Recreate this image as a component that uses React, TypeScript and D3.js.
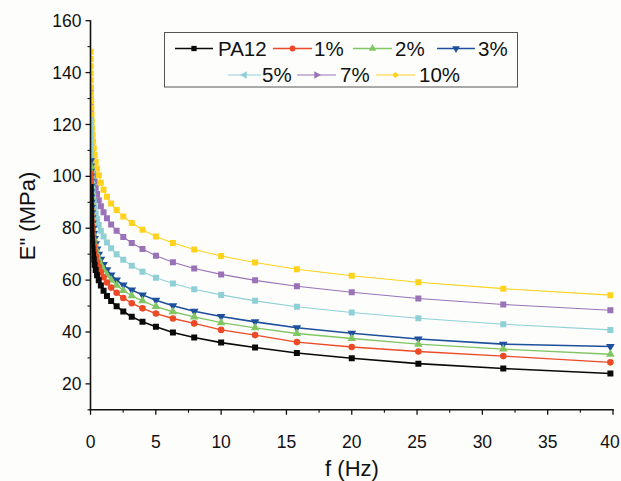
import React from 'react';
import * as d3 from 'd3';

const FREQ = [0.01, 0.0126, 0.0158, 0.02, 0.0251, 0.0316, 0.0398, 0.0501, 0.0631, 0.0794,
  0.1, 0.126, 0.158, 0.2, 0.251, 0.316, 0.398, 0.501, 0.631, 0.794,
  1, 1.26, 1.58, 2, 2.51, 3.16, 3.98, 5.01, 6.31, 7.94,
  10, 12.6, 15.8, 20, 25.1, 31.6, 39.8];

const PA12 = [95.9, 93.9, 91.9, 89.9, 87.9, 85.9, 83.9, 81.9, 79.9, 77.9,
  75.9, 73.9, 71.9, 69.9, 67.9, 65.9, 63.9, 61.9, 59.9, 57.9,
  55.9, 53.9, 51.9, 49.9, 47.9, 45.9, 43.9, 42.0, 39.8, 37.9,
  35.9, 34.0, 31.9, 29.9, 27.8, 25.9, 24.0];
const C1 = [101.1, 99.1, 97.1, 95.1, 93.1, 91.1, 89.1, 87.1, 85.1, 83.1,
  81.1, 79.1, 77.1, 75.1, 73.1, 71.1, 69.1, 67.1, 65.1, 63.1,
  61.1, 59.1, 57.1, 55.1, 53.1, 51.1, 49.1, 47.1, 45.2, 43.3,
  40.8, 38.8, 36.1, 34.2, 32.5, 30.7, 28.3];
const C2 = [104.0, 102.0, 100.0, 98.0, 96.0, 94.0, 92.0, 90.0, 88.0, 86.0,
  84.0, 82.0, 80.0, 78.0, 76.0, 74.0, 72.0, 70.0, 68.0, 66.0,
  64.0, 62.0, 60.0, 58.0, 56.0, 54.0, 52.0, 49.8, 47.8, 45.8,
  43.6, 41.6, 39.4, 37.5, 35.3, 33.4, 31.4];
const C3 = [106.0, 104.0, 102.0, 100.0, 98.0, 96.0, 94.0, 92.0, 90.0, 88.0,
  86.0, 84.0, 82.0, 80.0, 78.0, 76.0, 74.0, 72.0, 70.0, 68.0,
  66.0, 64.0, 62.0, 60.0, 58.1, 56.2, 54.3, 52.2, 50.1, 48.0,
  46.0, 43.9, 41.6, 39.5, 37.3, 35.3, 34.4];
const C5 = [121.5, 119.3, 117.0, 114.8, 112.6, 110.3, 108.1, 105.9, 103.6, 101.4,
  99.1, 96.9, 94.7, 92.4, 90.2, 88.0, 85.7, 83.5, 81.2, 79.0,
  76.8, 74.5, 72.3, 70.0, 67.8, 65.5, 63.2, 60.9, 58.7, 56.5,
  54.3, 52.0, 49.7, 47.5, 45.3, 43.0, 40.8];
const C7 = [134.0, 131.6, 129.2, 126.8, 124.4, 122.0, 119.6, 117.2, 114.8, 112.4,
  110.0, 107.6, 105.2, 102.8, 100.4, 98.0, 95.6, 93.2, 90.8, 88.5,
  86.2, 83.8, 81.4, 79.0, 76.6, 74.3, 72.0, 69.4, 66.9, 64.5,
  62.2, 59.9, 57.6, 55.3, 52.9, 50.6, 48.4];
const C10 = [148.0, 145.2, 142.4, 139.7, 137.0, 134.3, 131.6, 129.0, 126.4, 123.8,
  121.2, 118.6, 116.0, 113.4, 110.8, 108.2, 105.6, 103.0, 100.4, 97.5,
  94.8, 92.1, 89.5, 87.0, 84.5, 82.0, 79.4, 76.8, 74.3, 71.8,
  69.3, 66.8, 64.2, 61.7, 59.2, 56.7, 54.2];

const SERIES_NAMES = ['PA12', '1%', '2%', '3%', '5%', '7%', '10%'];
const SERIES_VALUES = [PA12, C1, C2, C3, C5, C7, C10];
const X_TICKS = [0, 5, 10, 15, 20, 25, 30, 35, 40];
const X_MINOR = [2.5, 7.5, 12.5, 17.5, 22.5, 27.5, 32.5, 37.5];
const Y_TICKS = [20, 40, 60, 80, 100, 120, 140, 160];
const Y_MINOR = [10, 30, 50, 70, 90, 110, 130, 150];

const STYLE = [
  { color: '#0a0a0a', sym: 'square', lsym: 'square', lw: 1.6 },
  { color: '#ec4a26', sym: 'circle', lsym: 'circle', lw: 1.4 },
  { color: '#80c663', sym: 'up', lsym: 'up', lw: 1.4 },
  { color: '#1d4f9c', sym: 'down', lsym: 'down', lw: 1.6 },
  { color: '#8fd0d6', sym: 'square', lsym: 'left', lw: 1.1 },
  { color: '#9a72b8', sym: 'square', lsym: 'right', lw: 1.1 },
  { color: '#ffd21c', sym: 'square', lsym: 'diamond', lw: 1.1 },
];

// legend layout: [lineStart, lineEnd, textX, y]
const LEGEND_POS = [
  [175, 213, 218, 48.5],
  [273, 312, 314, 48.5],
  [353, 392, 395, 48.5],
  [437, 475, 478, 48.5],
  [228, 261, 262, 75],
  [297, 336, 340, 75],
  [376, 415, 419, 75],
];

function symPath(kind: string, s: number) {
  switch (kind) {
    case 'circle': return { d: d3.symbol().type(d3.symbolCircle).size(s * 0.95)() as string, rot: 0 };
    case 'up': return { d: d3.symbol().type(d3.symbolTriangle).size(s * 0.9)() as string, rot: 0 };
    case 'down': return { d: d3.symbol().type(d3.symbolTriangle).size(s * 0.9)() as string, rot: 180 };
    case 'left': return { d: d3.symbol().type(d3.symbolTriangle).size(s * 0.9)() as string, rot: -90 };
    case 'right': return { d: d3.symbol().type(d3.symbolTriangle).size(s * 0.9)() as string, rot: 90 };
    case 'diamond': return { d: d3.symbol().type(d3.symbolSquare).size(s * 0.7)() as string, rot: 45 };
    default: return { d: d3.symbol().type(d3.symbolSquare).size(s)() as string, rot: 0 };
  }
}

export default function App() {
  const W = 621, H = 481;
  const x = d3.scaleLinear().domain([0, 40]).range([90.5, 613]);
  const y = d3.scaleLinear().domain([10, 160]).range([409.8, 20.7]);
  const line = d3.line<number>().x((_, i) => x(FREQ[i])).y(d => y(d));
  const font = "'Liberation Sans', Arial, sans-serif";
  const order = [5, 6, 4, 3, 2, 1, 0];

  return (
    <svg width={W} height={H} style={{ position: 'absolute', left: 0, top: 0, background: '#fdfdfc' }}
      fontFamily={font}>
      <defs>
        <clipPath id="plot">
          <rect x={x(0) + 0.8} y={0} width={x(40) - x(0) + 10} height={y(10) - 0} />
        </clipPath>
      </defs>
      <rect width={W} height={H} fill="#fdfdfc" />
      <g clipPath="url(#plot)">
        {order.map(si => {
          const st = STYLE[si];
          const vals = SERIES_VALUES[si];
          const sp = symPath(st.sym, 36);
          return (
            <g key={si}>
              <path d={line(vals) as string} fill="none" stroke={st.color} strokeWidth={st.lw} />
              {vals.map((v, i) => (
                <path key={i} d={sp.d} fill={st.color}
                  transform={`translate(${x(FREQ[i])},${y(v)}) rotate(${sp.rot})`} />
              ))}
            </g>
          );
        })}
      </g>
      {/* axes */}
      <line x1={x(0)} x2={x(0)} y1={y(160) - 0.5} y2={y(10) + 0.8} stroke="#111" strokeWidth={1.6} />
      <line x1={x(0) - 0.8} x2={x(40) + 0.8} y1={y(10)} y2={y(10)} stroke="#111" strokeWidth={1.6} />
      {Y_TICKS.map(t => (
        <g key={t}>
          <line x1={x(0) - 5} x2={x(0)} y1={y(t)} y2={y(t)} stroke="#111" strokeWidth={1.3} />
          <text x={x(0) - 9} y={y(t)} dy="0.35em" textAnchor="end" fontSize={17.5} fill="#111">{t}</text>
        </g>
      ))}
      {Y_MINOR.map(t => (
        <line key={t} x1={x(0) - 3} x2={x(0)} y1={y(t)} y2={y(t)} stroke="#111" strokeWidth={1.1} />
      ))}
      {X_TICKS.map(t => (
        <g key={t}>
          <line x1={x(t)} x2={x(t)} y1={y(10)} y2={y(10) + 5} stroke="#111" strokeWidth={1.3} />
          <text x={Math.min(x(t), 610)} y={447.5} textAnchor="middle" fontSize={17.5} fill="#111">{t}</text>
        </g>
      ))}
      {X_MINOR.map(t => (
        <line key={t} x1={x(t)} x2={x(t)} y1={y(10)} y2={y(10) + 3} stroke="#111" strokeWidth={1.1} />
      ))}
      <text x={352} y={476} textAnchor="middle" fontSize={22} fill="#111">f (Hz)</text>
      <text transform="translate(35,216) rotate(-90)" textAnchor="middle" fontSize={22} fill="#111">E" (MPa)</text>
      {/* legend */}
      <rect x={164.5} y={32.5} width={353} height={54.5} fill="#fdfdfc" stroke="#555" strokeWidth={1} />
      {SERIES_NAMES.map((name, si) => {
        const [l0, l1, tx, ly] = LEGEND_POS[si];
        const st = STYLE[si];
        const sp = symPath(st.lsym, 28);
        return (
          <g key={name}>
            <line x1={l0} x2={l1} y1={ly} y2={ly} stroke={st.color} strokeWidth={st.lw} />
            <path d={sp.d} fill={st.color} transform={`translate(${(l0 + l1) / 2},${ly}) rotate(${sp.rot})`} />
            <text x={tx} y={ly} dy="0.36em" fontSize={20.5} fill="#111">{name}</text>
          </g>
        );
      })}
    </svg>
  );
}
